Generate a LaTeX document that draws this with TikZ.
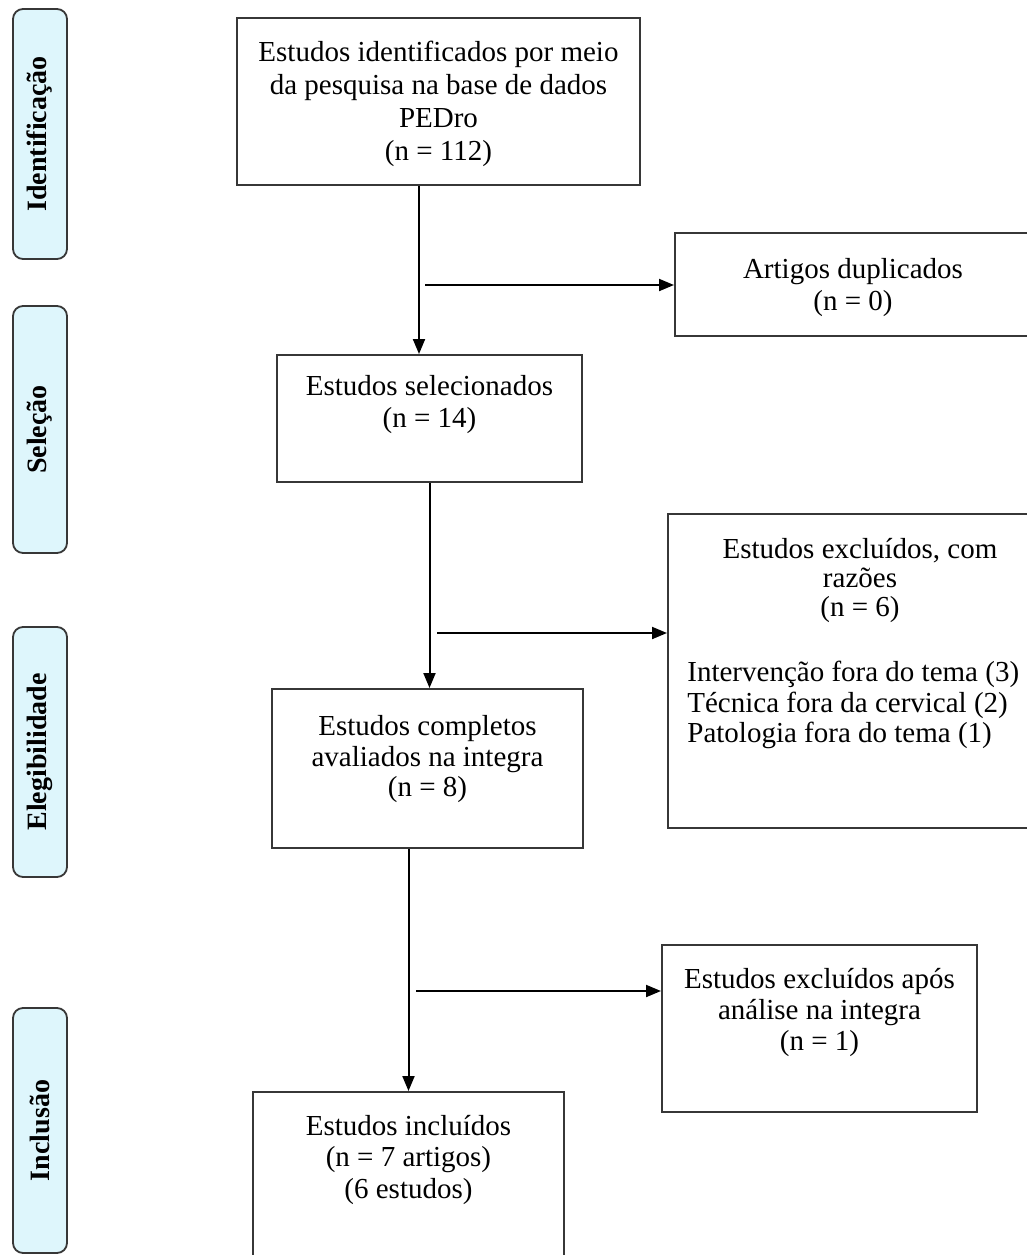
\documentclass[tikz,border=0pt]{standalone}
\usepackage{fontspec}
\setmainfont{Liberation Serif}
\usetikzlibrary{positioning,arrows.meta}
\definecolor{phasefill}{RGB}{222,246,252}
\definecolor{edge}{RGB}{55,55,55}
\tikzset{
  box/.style={draw=edge, line width=1pt, inner sep=0pt},
  txt/.style={align=center, inner sep=0pt, font=\fontsize{14.5}{16}\selectfont},
  phase/.style={draw=edge, line width=0.9pt, fill=phasefill, rounded corners=5pt, rotate=90,
    minimum width=125pt, minimum height=27pt, inner sep=0pt, font=\fontsize{14}{16}\selectfont\bfseries},
  arr/.style={-{Triangle[length=7.5pt,width=6pt]}, line width=1pt}
}

\begin{document}
\begin{tikzpicture}[x=0.5pt,y=-0.5pt]
\useasboundingbox (0,0) rectangle (1027,1255);
\clip (0,0) rectangle (1027,1255);

\node[phase] (p1) at (40,134) {Identificação};
\node[phase, minimum width=123.5pt] (p2) at (40,429.5) {Seleção};
\node[phase] (p3) at (40,752) {Elegibilidade};
\node[phase, minimum width=122.5pt] (p4) at (40,1130.5) {Inclusão};

\node[box, minimum width=201.5pt, minimum height=83.5pt] (ident) at (438.5,101.5) {};
\node[txt, font=\fontsize{14.5}{16.5}\selectfont, below=11.8pt of ident.north] (ident-t) {Estudos identificados por meio\\da pesquisa na base de dados\\PEDro\\(n = 112)};

\node[box, minimum width=178pt, minimum height=51.5pt] (dup) at (853,284.5) {};
\node[txt, below=13pt of dup.north] (dup-t) {Artigos duplicados\\(n = 0)};

\node[box, minimum width=152.5pt, minimum height=63.5pt] (sel) at (429.5,418.5) {};
\node[txt, below=10.3pt of sel.north] (sel-t) {Estudos selecionados\\(n = 14)};

\node[box, minimum width=192pt, minimum height=157pt] (excl) at (860,671) {};
\node[txt, font=\fontsize{14.5}{14.6}\selectfont, below=12.3pt of excl.north] (excl-t) {Estudos excluídos, com\\razões\\(n = 6)};
\node[txt, align=left, font=\fontsize{14.5}{15.2}\selectfont, anchor=north west] (excl-l)
  at ([xshift=10pt,yshift=-74pt]excl.north west) {Intervenção fora do tema (3)\\Técnica fora da cervical (2)\\Patologia fora do tema (1)};

\node[box, minimum width=155.5pt, minimum height=79.5pt] (comp) at (427.5,768.5) {};
\node[txt, font=\fontsize{14.5}{15.3}\selectfont, below=13.5pt of comp.north] (comp-t) {Estudos completos\\avaliados na integra\\(n = 8)};

\node[box, minimum width=157.5pt, minimum height=83.5pt] (excl2) at (819.5,1028.5) {};
\node[txt, font=\fontsize{14.5}{15.5}\selectfont, below=11.8pt of excl2.north] (excl2-t) {Estudos excluídos após\\análise na integra\\(n = 1)};

\node[box, minimum width=155.5pt, minimum height=99pt] (incl) at (408.5,1191) {};
\node[txt, font=\fontsize{14.5}{15.8}\selectfont, below=11.8pt of incl.north] (incl-t) {Estudos incluídos\\(n = 7 artigos)\\(6 estudos)};

\draw[arr] ([xshift=-9.75pt]ident.south) coordinate (v1) -- (v1 |- sel.north);
\coordinate (j1) at (425,285);
\draw[arr] (j1) -- (j1 -| dup.west);
\draw[arr] (sel.south) -- (sel.south |- comp.north);
\coordinate (j2) at (437,633);
\draw[arr] (j2) -- (j2 -| excl.west);
\draw[arr] (incl.north |- comp.south) -- (incl.north);
\coordinate (j3) at (416,991);
\draw[arr] (j3) -- (j3 -| excl2.west);
\end{tikzpicture}
\end{document}
